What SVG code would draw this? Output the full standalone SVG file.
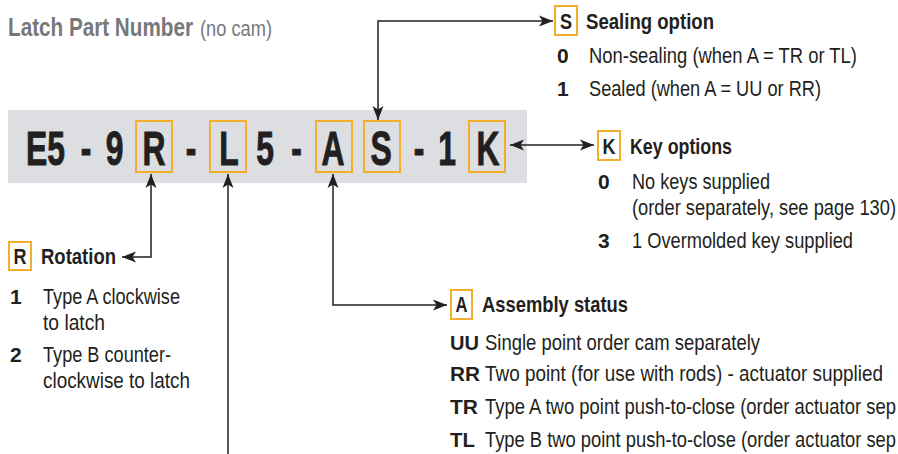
<svg xmlns="http://www.w3.org/2000/svg" width="898" height="454" viewBox="0 0 898 454">
<style>
text{font-family:"Liberation Sans",Arial,sans-serif;fill:#231f20}
.title{font-size:26px;font-weight:bold;fill:#77787b}
.titler{font-size:22px;font-weight:normal;fill:#77787b}
.big{font-size:49px;font-weight:bold;stroke:#231f20;stroke-width:1}
.hd{font-size:22px;font-weight:bold}
.key{font-size:21px;font-weight:bold}
.b{font-size:22px}
.obox{fill:none;stroke:#f4ae2b;stroke-width:2}
.lbox{fill:#fff;stroke:#f4ae2b;stroke-width:2}
.conn{fill:none;stroke:#231f20;stroke-width:1.5}
</style>
<defs>
<marker id="ah" markerUnits="userSpaceOnUse" markerWidth="16" markerHeight="12" viewBox="-1 -6 16 12" refX="14" refY="0" orient="auto-start-reverse">
<path d="M0,-5.5 L14,0 L0,5.5 L3.5,0 Z" fill="#231f20"/>
</marker>
</defs>

<g id="title">
<text x="8" y="36"><tspan class="title" x="8" textLength="185" lengthAdjust="spacingAndGlyphs">Latch Part Number</tspan><tspan class="titler" x="200" textLength="72" lengthAdjust="spacingAndGlyphs">(no cam)</tspan></text>
</g>

<g id="part-number">
<rect x="8" y="110" width="519" height="73" fill="#dcdee2"/>
<rect class="obox" x="136" y="121" width="36" height="51"/>
<rect class="obox" x="210" y="121" width="36" height="51"/>
<rect class="obox" x="316" y="121" width="36" height="51"/>
<rect class="obox" x="364" y="121" width="36" height="51"/>
<rect class="obox" x="469" y="121" width="36" height="51"/>
<text class="big" transform="scale(0.65,1)" y="165" text-anchor="middle"><tspan x="70">E5</tspan><tspan x="132.3">-</tspan><tspan x="176.2">9</tspan><tspan x="236.9">R</tspan><tspan x="293.8">-</tspan><tspan x="352.3">L</tspan><tspan x="407.7">5</tspan><tspan x="456.2">-</tspan><tspan x="512.3">A</tspan><tspan x="586.2">S</tspan><tspan x="644.6">-</tspan><tspan x="687.7">1</tspan><tspan x="750.8">K</tspan></text>
</g>

<g id="sealing">
<rect class="lbox" x="555" y="6" width="22" height="29"/>
<text class="hd" x="566" y="29" text-anchor="middle" textLength="12" lengthAdjust="spacingAndGlyphs">S</text>
<text class="hd" x="586" y="29" textLength="128" lengthAdjust="spacingAndGlyphs">Sealing option</text>
<text class="key" x="557" y="63">0</text>
<text class="b" x="589" y="63" textLength="268" lengthAdjust="spacingAndGlyphs">Non-sealing (when A = TR or TL)</text>
<text class="key" x="557" y="96">1</text>
<text class="b" x="589" y="96" textLength="232" lengthAdjust="spacingAndGlyphs">Sealed (when A = UU or RR)</text>
</g>

<g id="key-options">
<rect class="lbox" x="598" y="131" width="22" height="29"/>
<text class="hd" x="609" y="154" text-anchor="middle" textLength="13" lengthAdjust="spacingAndGlyphs">K</text>
<text class="hd" x="630" y="154" textLength="102" lengthAdjust="spacingAndGlyphs">Key options</text>
<text class="key" x="598" y="189">0</text>
<text class="b" x="632" y="189" textLength="138" lengthAdjust="spacingAndGlyphs">No keys supplied</text>
<text class="b" x="632" y="215" textLength="264" lengthAdjust="spacingAndGlyphs">(order separately, see page 130)</text>
<text class="key" x="598" y="248">3</text>
<text class="b" x="632" y="248" textLength="221" lengthAdjust="spacingAndGlyphs">1 Overmolded key supplied</text>
</g>

<g id="rotation">
<rect class="lbox" x="9" y="242" width="22" height="28"/>
<text class="hd" x="20" y="264" text-anchor="middle" textLength="13" lengthAdjust="spacingAndGlyphs">R</text>
<text class="hd" x="41" y="264" textLength="75" lengthAdjust="spacingAndGlyphs">Rotation</text>
<text class="key" x="10" y="304">1</text>
<text class="b" x="43" y="304" textLength="137" lengthAdjust="spacingAndGlyphs">Type A clockwise</text>
<text class="b" x="43" y="330" textLength="62" lengthAdjust="spacingAndGlyphs">to latch</text>
<text class="key" x="10" y="362">2</text>
<text class="b" x="43" y="362" textLength="128" lengthAdjust="spacingAndGlyphs">Type B counter-</text>
<text class="b" x="43" y="388" textLength="147" lengthAdjust="spacingAndGlyphs">clockwise to latch</text>
</g>

<g id="assembly">
<rect class="lbox" x="451" y="290" width="21" height="29"/>
<text class="hd" x="461.5" y="312" text-anchor="middle" textLength="12" lengthAdjust="spacingAndGlyphs">A</text>
<text class="hd" x="482" y="312" textLength="146" lengthAdjust="spacingAndGlyphs">Assembly status</text>
<text class="key" x="450" y="350" textLength="29" lengthAdjust="spacingAndGlyphs">UU</text>
<text class="b" x="485" y="350" textLength="275" lengthAdjust="spacingAndGlyphs">Single point order cam separately</text>
<text class="key" x="450" y="381" textLength="30" lengthAdjust="spacingAndGlyphs">RR</text>
<text class="b" x="485" y="381" textLength="398" lengthAdjust="spacingAndGlyphs">Two point (for use with rods) - actuator supplied</text>
<text class="key" x="450" y="414" textLength="28" lengthAdjust="spacingAndGlyphs">TR</text>
<text class="b" x="485" y="414" textLength="411" lengthAdjust="spacingAndGlyphs">Type A two point push-to-close (order actuator sep</text>
<text class="key" x="450" y="447" textLength="25" lengthAdjust="spacingAndGlyphs">TL</text>
<text class="b" x="485" y="447" textLength="411" lengthAdjust="spacingAndGlyphs">Type B two point push-to-close (order actuator sep</text>
</g>

<g id="connectors">
<path class="conn" d="M553,21 H378 V120" marker-start="url(#ah)" marker-end="url(#ah)"/>
<path class="conn" d="M510,145 H594" marker-start="url(#ah)" marker-end="url(#ah)"/>
<path class="conn" d="M151,174 V257 H122" marker-start="url(#ah)" marker-end="url(#ah)"/>
<path class="conn" d="M228,454 V174" marker-end="url(#ah)"/>
<path class="conn" d="M333,174 V305 H447" marker-start="url(#ah)" marker-end="url(#ah)"/>
</g>
</svg>
